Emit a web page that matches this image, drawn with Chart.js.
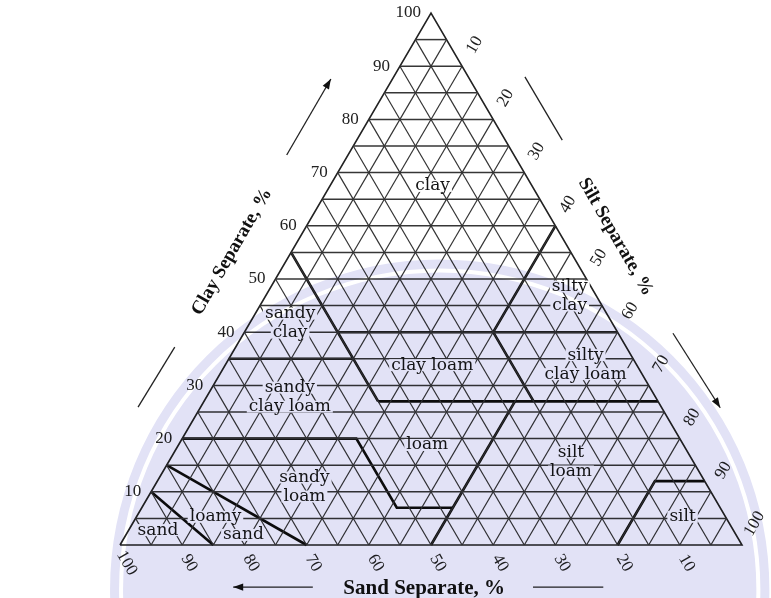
<!DOCTYPE html>
<html>
<head>
<meta charset="utf-8">
<script src="https://cdn.jsdelivr.net/npm/chart.js@4.4.0/dist/chart.umd.min.js"></script>
<style>
  html, body { margin: 0; padding: 0; background: #ffffff; }
  #c { display: block; }
</style>
</head>
<body>
<canvas id="c" width="771" height="598"></canvas>
<script>
// ---- Axis tick labels (percent) ----
const clayTicks = [10, 20, 30, 40, 50, 60, 70, 80, 90, 100];
const siltTicks = [10, 20, 30, 40, 50, 60, 70, 80, 90, 100];
const sandTicks = [100, 90, 80, 70, 60, 50, 40, 30, 20, 10];

// ---- Triangular grid levels (percent) ----
const gridLevels = [5, 10, 15, 20, 25, 30, 35, 40, 45, 50, 55, 60, 65, 70, 75, 80, 85, 90, 95];

// ---- USDA texture class boundaries, vertices as [clay %, silt %] ----
const sandBoundary       = [[0, 15], [10, 0]];
const loamySandBoundary  = [[0, 30], [15, 0]];
const sandyLoamBoundary  = [[20, 0], [20, 28], [7, 41], [7, 50]];
const siltLoamBoundary   = [[27, 50], [0, 50]];
const sandyClayBoundary  = [[55, 0], [27, 28]];
const sandyClayLoamTop   = [[35, 0], [35, 20]];
const clayBottom         = [[40, 15], [40, 60]];
const loamTop            = [[27, 28], [27, 73]];
const clayLoamRight      = [[40, 40], [27, 53]];
const siltyClayLeft      = [[40, 40], [60, 40]];
const siltBoundary       = [[12, 88], [12, 80], [0, 80]];
const triangleFrame      = [[0, 0], [100, 0], [0, 100], [0, 0]];

// ---- Texture class names ----
const classNames = [
  ['clay'],
  ['silty', 'clay'],
  ['sandy', 'clay'],
  ['clay loam'],
  ['silty', 'clay loam'],
  ['sandy', 'clay loam'],
  ['loam'],
  ['silt', 'loam'],
  ['sandy', 'loam'],
  ['loamy'],
  ['sand'],
  ['sand'],
  ['silt']
];
// where each name sits, as [clay %, silt %]
const classAnchors = [
  [67.5, 16.5], [46.8, 48.9], [41.7, 6.5], [33.8, 33.3], [33.9, 57.9],
  [27.8, 13.4], [18.8, 40.0], [15.6, 64.7], [10.9, 24.2], [5.3, 12.7],
  [1.9, 18.9], [2.8, 4.7], [5.3, 87.8]
];

// ---- Axis titles ----
const clayTitle = 'Clay Separate, %';
const siltTitle = 'Silt Separate, %';
const sandTitle = 'Sand Separate, %';

// Convert ternary [clay, silt] into the chart's x/y plane
const toXY = (clay, silt) => ({ x: silt + clay / 2, y: clay });

const datasets = [];
function addLine(points, style) {
  datasets.push(Object.assign({
    data: points.map(p => toXY(p[0], p[1])),
    showLine: true, pointRadius: 0, pointHoverRadius: 0,
    fill: false, tension: 0, clip: false
  }, style));
}

const gridFlat = { borderColor: '#363636', borderWidth: 1.5 };
const gridSlant = { borderColor: '#333333', borderWidth: 1.2 };
gridLevels.forEach(g => {
  addLine([[g, 0], [g, 100 - g]], gridFlat);        // constant clay
  addLine([[0, g], [100 - g, g]], gridSlant);       // constant silt
  addLine([[0, 100 - g], [100 - g, 0]], gridSlant); // constant sand
});

addLine(triangleFrame, { borderColor: '#222', borderWidth: 1.6 });

const boundaryStyle = { borderColor: '#0d0d0d', borderWidth: 2.6 };
[sandBoundary, loamySandBoundary, sandyLoamBoundary, siltLoamBoundary,
 sandyClayBoundary, sandyClayLoamTop, clayBottom, loamTop, clayLoamRight,
 siltyClayLeft, siltBoundary].forEach(b => addLine(b, boundaryStyle));

// Pixel position of a ternary point
function px(chart, clay, silt) {
  const p = toXY(clay, silt);
  return { x: chart.scales.x.getPixelForValue(p.x), y: chart.scales.y.getPixelForValue(p.y) };
}
function pxPlane(chart, x, y) {
  return { x: chart.scales.x.getPixelForValue(x), y: chart.scales.y.getPixelForValue(y) };
}

function drawArrow(ctx, a, b, head) {
  ctx.beginPath();
  ctx.moveTo(a.x, a.y);
  ctx.lineTo(b.x, b.y);
  ctx.stroke();
  if (head) {
    const ang = Math.atan2(b.y - a.y, b.x - a.x);
    const L = 10, W = 3.6;
    ctx.beginPath();
    ctx.moveTo(b.x, b.y);
    ctx.lineTo(b.x - L * Math.cos(ang) + W * Math.sin(ang), b.y - L * Math.sin(ang) - W * Math.cos(ang));
    ctx.lineTo(b.x - L * Math.cos(ang) - W * Math.sin(ang), b.y - L * Math.sin(ang) + W * Math.cos(ang));
    ctx.closePath();
    ctx.fill();
  }
}

const ternaryDecor = {
  id: 'ternaryDecor',
  afterDatasetsDraw(chart) {
    const ctx = chart.ctx;
    ctx.save();

    // class names with a small knock-out behind the text
    ctx.font = '17px "DejaVu Serif"';
    ctx.textAlign = 'center';
    ctx.textBaseline = 'middle';
    const lineGap = 19;
    classNames.forEach((lines, i) => {
      const c = px(chart, classAnchors[i][0], classAnchors[i][1]);
      const y0 = c.y - (lines.length - 1) * lineGap / 2;
      lines.forEach((t, j) => {
        const w = ctx.measureText(t).width;
        const y = y0 + j * lineGap;
        ctx.fillStyle = '#ffffff';
        ctx.fillRect(c.x - w / 2 - 2, y - 6, w + 4, 12);
        ctx.fillStyle = '#151515';
        ctx.fillText(t, c.x, y);
      });
    });

    // clay ticks on the left side
    ctx.font = '17px "Liberation Serif"';
    ctx.fillStyle = '#222';
    ctx.textAlign = 'right';
    ctx.textBaseline = 'middle';
    clayTicks.forEach(v => {
      const p = pxPlane(chart, v / 2 - 1.6, v);
      ctx.fillText(String(v), p.x, p.y);
    });

    // silt ticks on the right side
    ctx.textAlign = 'center';
    siltTicks.forEach(v => {
      const p = pxPlane(chart, 52 + v / 2, 104 - v);
      ctx.save();
      ctx.translate(p.x, p.y);
      ctx.rotate(-Math.PI / 3);
      ctx.fillText(String(v), 0, 0);
      ctx.restore();
    });

    // sand ticks along the base
    sandTicks.forEach(v => {
      const p = pxPlane(chart, 100 - v + 1.1, -3.4);
      ctx.save();
      ctx.translate(p.x, p.y);
      ctx.rotate(Math.PI / 3);
      ctx.fillText(String(v), 0, 0);
      ctx.restore();
    });

    // axis titles
    ctx.fillStyle = '#111';
    ctx.font = 'bold 19px "Liberation Serif"';
    let p = pxPlane(chart, 18.0, 55.1);
    ctx.save(); ctx.translate(p.x, p.y); ctx.rotate(-Math.PI / 3); ctx.fillText(clayTitle, 0, 0); ctx.restore();
    p = pxPlane(chart, 79.7, 57.9);
    ctx.save(); ctx.translate(p.x, p.y); ctx.rotate(Math.PI / 3); ctx.fillText(siltTitle, 0, 0); ctx.restore();
    ctx.font = 'bold 21px "Liberation Serif"';
    p = pxPlane(chart, 48.9, -8.1);
    ctx.fillText(sandTitle, p.x, p.y);

    // direction arrows and guide strokes
    ctx.strokeStyle = '#222';
    ctx.fillStyle = '#111';
    ctx.lineWidth = 1.3;
    drawArrow(ctx, pxPlane(chart, 26.8, 73.3), pxPlane(chart, 33.9, 87.6), true);
    drawArrow(ctx, pxPlane(chart, 2.9, 25.9), pxPlane(chart, 8.8, 37.2), false);
    drawArrow(ctx, pxPlane(chart, 65.1, 88.0), pxPlane(chart, 71.1, 76.1), false);
    drawArrow(ctx, pxPlane(chart, 88.9, 39.8), pxPlane(chart, 96.5, 25.8), true);
    drawArrow(ctx, pxPlane(chart, 31.0, -7.9), pxPlane(chart, 18.2, -7.9), true);
    drawArrow(ctx, pxPlane(chart, 66.4, -7.9), pxPlane(chart, 77.7, -7.9), false);

    ctx.restore();
  },
  afterDraw(chart) {
    // pale seal in the background, tinted over the lower half
    const ctx = chart.ctx;
    const c = pxPlane(chart, 51.4, -8.3);
    const unit = chart.scales.x.getPixelForValue(1) - chart.scales.x.getPixelForValue(0);
    const r = 53 * unit;
    ctx.save();
    ctx.globalCompositeOperation = 'multiply';
    ctx.fillStyle = 'rgb(226,226,246)';
    ctx.beginPath();
    [r, r - 9, r - 13].forEach(rr => {
      ctx.moveTo(c.x + rr, c.y);
      ctx.arc(c.x, c.y, rr, 0, Math.PI * 2);
    });
    ctx.fill('evenodd');
    ctx.restore();
  }
};

new Chart(document.getElementById('c'), {
  type: 'scatter',
  data: { datasets },
  options: {
    responsive: false,
    animation: false,
    events: [],
    layout: { padding: { left: 120, right: 29, top: 13, bottom: 53 } },
    scales: {
      x: { type: 'linear', min: 0, max: 100, display: false },
      y: { type: 'linear', min: 0, max: 100, display: false }
    },
    plugins: { legend: { display: false }, tooltip: { enabled: false } }
  },
  plugins: [ternaryDecor]
});
</script>
</body>
</html>
